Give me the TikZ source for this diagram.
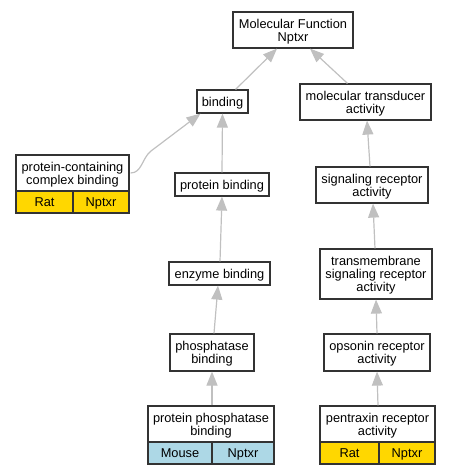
\documentclass[tikz,border=0pt]{standalone}
\usepackage{fontspec}
\setmainfont{Liberation Sans}
\usetikzlibrary{arrows.meta}
\definecolor{edgegray}{HTML}{C0C0C0}
\definecolor{bordergray}{HTML}{333333}
\definecolor{gold}{HTML}{FFD700}
\definecolor{lblue}{HTML}{ADD8E6}
\begin{document}
\begin{tikzpicture}[x=1pt,y=-1pt,
  box/.style={draw=bordergray, line width=1.2pt, fill=white, inner sep=0pt, align=center,
    font=\fontsize{12.8}{13}\selectfont, text depth=0pt},
  cell/.style={box, minimum height=22pt},
  edge/.style={draw=edgegray, line width=1.2pt, -{Triangle[length=14pt,width=11pt]}}]
\useasboundingbox (0,0) rectangle (451,475);
% nodes
\node[box, minimum width=120pt, minimum height=36pt] (mf) at (293,30) {Molecular Function\\Nptxr};
\node[box, minimum width=51pt, minimum height=23pt] (bind) at (222.5,101.5) {binding};
\node[box, minimum width=131pt, minimum height=36pt] (mt) at (365.5,102) {molecular transducer\\activity};
\node[box, minimum width=113pt, minimum height=36pt] (pcc) at (72.5,173) {protein-containing\\complex binding};
\node[cell, fill=gold, minimum width=57pt] (pccr) at (44.5,202) {Rat};
\node[cell, fill=gold, minimum width=56pt] (pccn) at (101,202) {Nptxr};
\node[box, minimum width=94pt, minimum height=23pt] (pb) at (222,184.5) {protein binding};
\node[box, minimum width=112pt, minimum height=36pt] (sr) at (372,185) {signaling receptor\\activity};
\node[box, minimum width=101pt, minimum height=23pt] (eb) at (219.5,273.5) {enzyme binding};
\node[box, minimum width=112pt, minimum height=50pt] (tm) at (376,274) {transmembrane\\signaling receptor\\activity};
\node[box, minimum width=84pt, minimum height=37pt] (phb) at (212,352.5) {phosphatase\\binding};
\node[box, minimum width=106pt, minimum height=37pt] (op) at (377,352.5) {opsonin receptor\\activity};
\node[box, minimum width=126pt, minimum height=36pt] (ppb) at (211,424) {protein phosphatase\\binding};
\node[cell, fill=lblue, minimum width=64pt] (ppbm) at (180,453) {Mouse};
\node[cell, fill=lblue, minimum width=62pt] (ppbn) at (243,453) {Nptxr};
\node[box, minimum width=115pt, minimum height=36pt] (pr) at (377.5,424) {pentraxin receptor\\activity};
\node[cell, fill=gold, minimum width=59pt] (prr) at (349.5,453) {Rat};
\node[cell, fill=gold, minimum width=56pt] (prn) at (407,453) {Nptxr};
% edges
\draw[edge] (bind.north east) ++(-13,0) -- ([xshift=-16pt]mf.south);
\draw[edge] (mt.north) ++(-18,0) -- ([xshift=17pt]mf.south);
\draw[edge] (pcc.east) ++(1,0) .. controls (142,173) and (142,158) .. (151,151) -- ([xshift=-22pt]bind.south);
\draw[edge] (pb.north) -- (bind.south);
\draw[edge] ([xshift=-2pt]sr.north) -- ([xshift=1.5pt]mt.south);
\draw[edge] ([xshift=0.5pt]eb.north) -- (pb.south);
\draw[edge] ([xshift=-1pt]tm.north) -- ([xshift=1pt]sr.south);
\draw[edge] ([xshift=2pt]phb.north) -- ([xshift=-1.5pt]eb.south);
\draw[edge] (op.north) -- (tm.south);
\draw[edge] ([xshift=1pt]ppb.north) -- (phb.south);
\draw[edge] ([xshift=0.5pt]pr.north) -- (op.south);
\end{tikzpicture}
\end{document}
